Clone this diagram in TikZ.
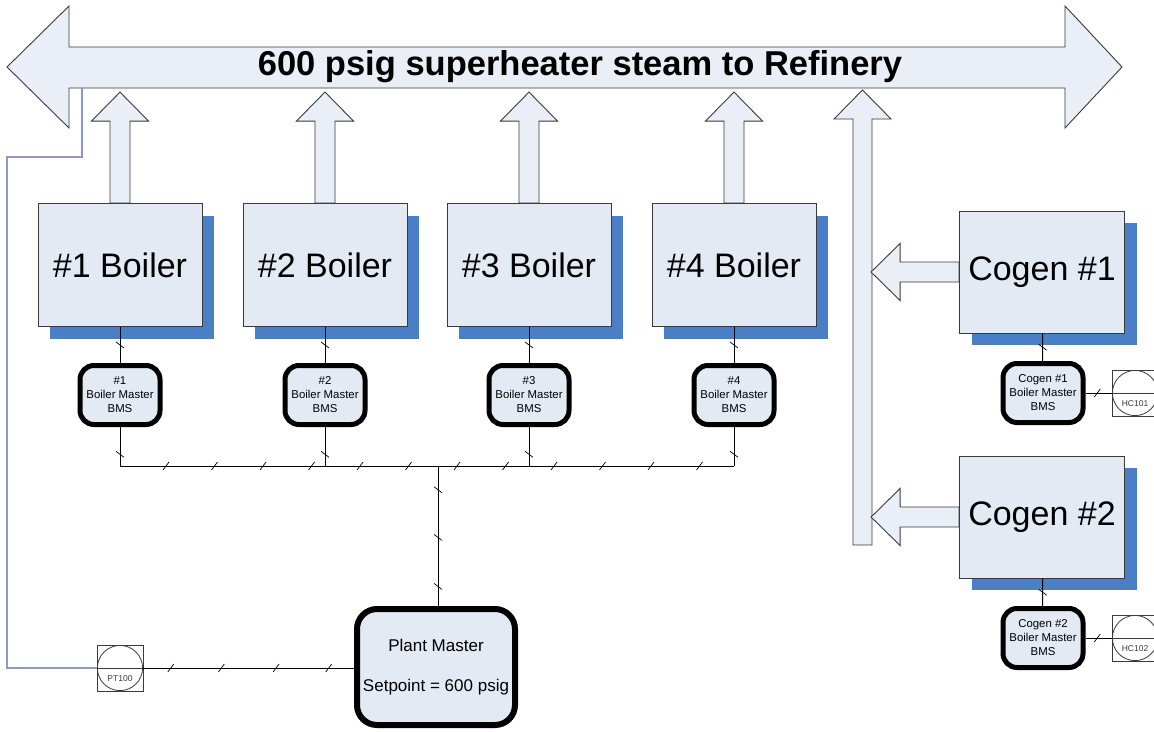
\documentclass[tikz,border=0pt]{standalone}
\usepackage{fontspec}
\setmainfont{Liberation Sans}
\usepackage{tikz}
\usetikzlibrary{shapes,arrows,shadows,decorations.markings}
\definecolor{boxfill}{HTML}{E4EAF4}
\definecolor{pipefill}{HTML}{EAEFF7}
\definecolor{shade}{HTML}{4A7EC6}
\definecolor{edge}{HTML}{3A3A3A}
\definecolor{fbcolor}{HTML}{9098C8}
\pgfdeclarelayer{back}
\pgfdeclarelayer{pipes}
\pgfsetlayers{back,pipes,main}
\tikzstyle{pipe} = [draw=edge, fill=pipefill, line width=0.9pt, line join=miter]
\tikzstyle{unit} = [rectangle, draw=edge, fill=boxfill, line width=0.9pt, minimum width=164, minimum height=123, font=\fontsize{34}{40}\selectfont, copy shadow={shadow xshift=12pt, shadow yshift=-12pt, fill=shade, draw=none}]
\tikzstyle{bms} = [rectangle, rounded corners=14pt, draw=black, fill=boxfill, line width=5pt, minimum width=80, minimum height=59, inner sep=1pt, align=center, font=\fontsize{11.4}{14}\selectfont]
\tikzstyle{master} = [bms, rounded corners=20pt, line width=6pt, minimum width=158, minimum height=116, font=\fontsize{17}{20}\selectfont]
\tikzstyle{instr} = [rectangle, draw=edge, line width=0.8pt, minimum size=46, inner sep=0pt, path picture={\draw[edge, line width=0.8pt] (path picture bounding box.center) circle (22.6pt); \draw[line width=0.8pt] (path picture bounding box.west) -- (path picture bounding box.east);}]
\tikzstyle{tag} = [font=\fontsize{8.5}{10}\selectfont, text=edge, inner sep=0pt]
\tikzstyle{sig} = [draw, line width=1pt]
\tikzstyle{fb} = [draw=fbcolor, line width=1.1pt]
\tikzset{tk/.style={postaction={decorate, decoration={markings, mark=at position #1 with {\draw[line width=0.7pt] (-3pt,-4pt) -- (3pt,4pt);}}}}}
\tikzset{bustk/.style={postaction={decorate, decoration={markings, mark=between positions 46pt and 585pt step 48.5pt with {\draw[line width=0.7pt] (-3pt,-4pt) -- (3pt,4pt);}}}}}
\begin{document}
\begin{tikzpicture}[x=1pt, y=-1pt]
\useasboundingbox (0,0) rectangle (1154,731);
\clip (0,0) rectangle (1154,731);
\begin{pgfonlayer}{back}
\fill[white] (0,0) rectangle (1154,731);
\end{pgfonlayer}

% boilers and their masters
\foreach \i/\x in {1/120,2/325,3/529,4/734} {
  \node [unit] (b\i) at (\x,265) {\#\i\ Boiler};
  \node [bms] (bms\i) at (\x,395) {\#\i\\Boiler Master\\BMS};
}

% cogen units
\node [unit, minimum width=165, minimum height=122] (c1) at (1042,272) {Cogen \#1};
\node [unit, minimum width=165, minimum height=122] (c2) at (1042,517) {Cogen \#2};
\node [bms] (cb1) at (1043,393) {Cogen \#1\\Boiler Master\\BMS};
\node [bms] (cb2) at (1043,638) {Cogen \#2\\Boiler Master\\BMS};
\node [instr] (hc1) at (1135,393) {};
\node [tag] at ([yshift=-11pt]hc1.center) {HC101};
\node [instr] (hc2) at (1135,638) {};
\node [tag] at ([yshift=-11pt]hc2.center) {HC102};

% plant master and pressure transmitter
\node [master] (pm) at (436,667) {Plant Master\\[20pt]Setpoint = 600 psig};
\node [instr] (pt) at (120,668) {};
\node [tag] at ([yshift=-11pt]pt.center) {PT100};

% steam header and branches
\begin{pgfonlayer}{pipes}
\path [pipe] (7,67) -- (69,6) -- (69,47) -- (1065,47) -- (1065,6) -- (1122,67) -- (1065,128) -- (1065,88) -- (69,88) -- (69,128) -- cycle;
\foreach \b in {b1,b2,b3,b4}
  \path [pipe] (\b.north) ++(-10,0) -- ++(0,-82) -- ++(-18.5,0) -- ++(28.5,-29) -- ++(28.5,29) -- ++(-18.5,0) -- ++(0,82) -- cycle;
\path [pipe] (853,545) -- (853,119) -- (834,119) -- (862.5,90) -- (891,119) -- (872,119) -- (872,545) -- cycle;
\foreach \c in {c1,c2}
  \path [pipe] (\c.west) ++(0,-10) -- ++(-59,0) -- ++(0,-18.5) -- ++(-29,28.5) -- ++(29,28.5) -- ++(0,-18.5) -- ++(59,0) -- cycle;
\end{pgfonlayer}
\node [font=\fontsize{34.5}{40}\selectfont\bfseries] (hdr) at (580,67) {600 psig superheater steam to Refinery};

% signal wiring
\coordinate (busL) at (120,466);
\coordinate (busR) at (734,466);
\coordinate (jn) at (438,466);
\foreach \i in {1,2,3,4} {
  \path [sig, tk=.5] (b\i) -- (bms\i);
  \path [sig, tk=.7] (bms\i) -- (bms\i |- busL);
}
\path [sig, bustk] (busL) -- (busR);
\path [sig, tk=.17, tk=.51, tk=.86] (jn) -- (jn |- pm.north);
\path [sig, tk=.13, tk=.37, tk=.63, tk=.88] (pt) -- (pt -| pm.west);
\path [sig, tk=.5] (c1) -- (cb1);
\path [sig, tk=.5] (c2) -- (cb2);
\path [sig, tk=.45] (cb1) -- (hc1);
\path [sig, tk=.45] (cb2) -- (hc2);

% pressure feedback from the header
\coordinate (tap) at (82,88);
\coordinate (kink) at (7,157);
\path [fb] (tap) |- (kink) |- (pt.west);
\end{tikzpicture}
\end{document}
